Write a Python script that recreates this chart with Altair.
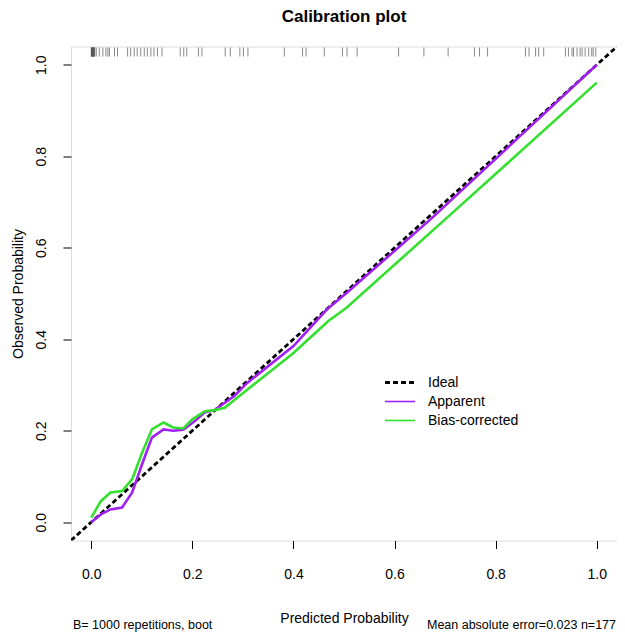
import altair as alt
import pandas as pd

FONT = "Liberation Sans"

# ---- data ----
ideal_x = [-0.04, 1.04]
ideal_y = [-0.04, 1.04]

app_x = [0.0, 0.019, 0.038, 0.061, 0.081, 0.100, 0.120, 0.143, 0.162, 0.182,
         0.205, 0.224, 0.244, 0.283, 0.309, 0.400, 0.466, 0.505, 0.671, 1.000]
app_y = [0.0, 0.017, 0.028, 0.032, 0.065, 0.125, 0.185, 0.203, 0.200, 0.202,
         0.221, 0.240, 0.245, 0.276, 0.305, 0.385, 0.465, 0.501, 0.662, 1.000]

bc_x = [0.0, 0.019, 0.038, 0.061, 0.081, 0.100, 0.120, 0.143, 0.162, 0.182,
        0.200, 0.224, 0.244, 0.264, 0.309, 0.400, 0.469, 0.505, 0.700, 1.000]
bc_y = [0.010, 0.046, 0.065, 0.068, 0.094, 0.150, 0.203, 0.218, 0.207, 0.205,
        0.225, 0.242, 0.245, 0.250, 0.290, 0.370, 0.440, 0.469, 0.662, 0.961]

rug_x = [0.000, 0.0005, 0.001, 0.0015, 0.002, 0.0025, 0.003, 0.0035, 0.004, 0.0045,
         0.005, 0.0055, 0.006, 0.007, 0.010, 0.016,
         0.023, 0.029, 0.033, 0.036, 0.046, 0.052, 0.072, 0.078, 0.085, 0.091,
         0.098, 0.105, 0.111, 0.118, 0.124, 0.131, 0.140, 0.176, 0.183, 0.189,
         0.212, 0.219, 0.265, 0.275, 0.294, 0.301, 0.310, 0.382, 0.418, 0.425,
         0.461, 0.497, 0.506, 0.526, 0.608, 0.658, 0.706, 0.758, 0.768, 0.784,
         0.859, 0.866, 0.879, 0.885, 0.895, 0.938, 0.944, 0.951, 0.954, 0.961,
         0.967, 0.971, 0.977, 0.984, 0.990, 0.993, 0.998]

tick_values = [0.0, 0.2, 0.4, 0.6, 0.8, 1.0]
legend_labels = ["Ideal", "Apparent", "Bias-corrected"]
colors = {"Ideal": "#000000", "Apparent": "#A020F0", "Bias-corrected": "#33E02E"}
title_text = "Calibration plot"
x_title = "Predicted Probability"
y_title = "Observed Probability"
note_left = "B= 1000 repetitions, boot"
note_right = "Mean absolute error=0.023 n=177"

PAD_L, PAD_T = 63, 38.5
W, H = 546, 494
DOM = [-0.04, 1.04]

xs = alt.Scale(domain=DOM, nice=False, zero=False)
ys = alt.Scale(domain=DOM, nice=False, zero=False)

x_axis = alt.Axis(values=tick_values, format=".1f", title=x_title, grid=False, domain=False,
                  tickSize=8, tickColor="black", tickWidth=1, labelFontSize=14, labelFont=FONT,
                  labelColor="black", labelPadding=19, titleFont=FONT, titleFontSize=14,
                  titleFontWeight="normal", titleColor="black", titleX=W / 2, titleY=78,
                  titleAlign="center", titleBaseline="middle")
y_axis = alt.Axis(values=tick_values, format=".1f", title=y_title, grid=False, domain=False,
                  tickSize=8, tickColor="black", tickWidth=1, labelFontSize=14, labelFont=FONT,
                  labelColor="black", labelPadding=15, labelAngle=270, labelAlign="center",
                  labelBaseline="bottom", titleFont=FONT, titleFontSize=14,
                  titleFontWeight="normal", titleColor="black", titleAngle=270,
                  titleX=-53, titleY=H / 2, titleAlign="center", titleBaseline="middle")

ideal_df = pd.DataFrame({"x": ideal_x, "y": ideal_y})
app_df = pd.DataFrame({"x": app_x, "y": app_y})
bc_df = pd.DataFrame({"x": bc_x, "y": bc_y})
rug_df = pd.DataFrame({"x": rug_x})

base_axes = alt.Chart(ideal_df).mark_line(
    color="black", strokeWidth=2.8, strokeDash=[5, 3], clip=True
).encode(
    x=alt.X("x:Q", scale=xs, axis=x_axis),
    y=alt.Y("y:Q", scale=ys, axis=y_axis),
)

app_line = alt.Chart(app_df).mark_line(color=colors["Apparent"], strokeWidth=2.6).encode(
    x=alt.X("x:Q", scale=xs), y=alt.Y("y:Q", scale=ys))
bc_line = alt.Chart(bc_df).mark_line(color=colors["Bias-corrected"], strokeWidth=2.6).encode(
    x=alt.X("x:Q", scale=xs), y=alt.Y("y:Q", scale=ys))

rug = alt.Chart(rug_df).mark_rule(color="#555555", strokeWidth=0.7).encode(
    x=alt.X("x:Q", scale=xs), y=alt.value(1), y2=alt.value(10))

# legend (drawn inside the plot like R's legend())
leg_x0, leg_x1, leg_tx = 314, 344, 357
leg_rows = [336, 355, 374]
legend_layers = []
for lab, yy in zip(legend_labels, leg_rows):
    d = pd.DataFrame({"label": [lab]})
    if lab == "Ideal":
        ln = alt.Chart(d).mark_rule(color="black", strokeWidth=2.8, strokeDash=[5, 3])
    else:
        ln = alt.Chart(d).mark_rule(color=colors[lab], strokeWidth=1.6)
    legend_layers.append(ln.encode(x=alt.value(leg_x0), x2=alt.value(leg_x1), y=alt.value(yy)))
    legend_layers.append(
        alt.Chart(d).mark_text(align="left", baseline="middle", fontSize=14, font=FONT,
                               color="black")
        .encode(x=alt.value(leg_tx), y=alt.value(yy), text="label:N"))

title_mark = alt.Chart(pd.DataFrame({"t": [title_text]})).mark_text(
    align="center", baseline="alphabetic", fontSize=17, fontWeight="bold", font=FONT, color="black"
).encode(x=alt.value(W / 2), y=alt.value(-25), text="t:N")

notes_left = alt.Chart(pd.DataFrame({"t": [note_left]})).mark_text(
    align="left", baseline="alphabetic", fontSize=12.5, font=FONT, color="black"
).encode(x=alt.value(2), y=alt.value(582.5), text="t:N")
notes_right = alt.Chart(pd.DataFrame({"t": [note_right]})).mark_text(
    align="right", baseline="alphabetic", fontSize=12.5, font=FONT, color="black"
).encode(x=alt.value(W - 1), y=alt.value(582.5), text="t:N")

chart = alt.layer(base_axes, app_line, bc_line, rug, *legend_layers, title_mark,
                  notes_left, notes_right).properties(
    width=W, height=H,
    autosize=alt.AutoSizeParams(type="none"),
    padding={"left": PAD_L, "top": PAD_T, "right": 0, "bottom": 624 - PAD_T - H},
).configure_view(stroke="black", strokeWidth=1.2).configure(background="white")

chart.save("out.html", embed_options={"renderer": "svg", "actions": False})
